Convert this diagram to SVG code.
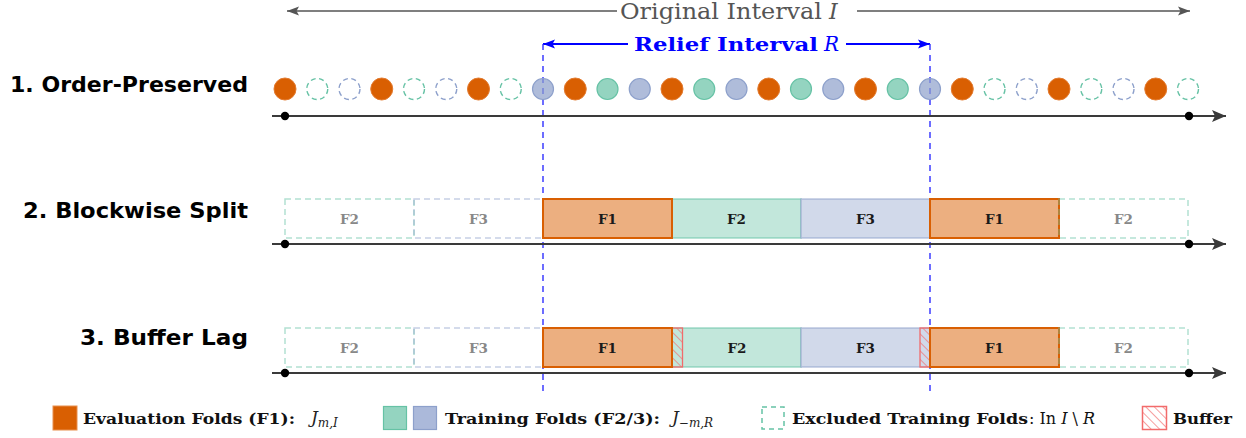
<svg xmlns="http://www.w3.org/2000/svg" width="1246" height="438" viewBox="0 0 1246 438">
<style>
.lbl{font-family:"DejaVu Sans",sans-serif;font-weight:bold;font-size:22px;fill:#000;text-anchor:end}
.ser{font-family:"DejaVu Serif",serif}
.bx{font-family:"DejaVu Serif",serif;font-weight:bold;font-size:13.5px;text-anchor:middle}
.dk{fill:#1a1a1a}
.gr{fill:#888}
.axis{stroke:#3a3a3a;stroke-width:2.2;fill:none}
.vd{stroke:#2f2fff;stroke-width:1.4;stroke-dasharray:6 5;fill:none}
.o{fill:#d95f02;stroke:#e37b30;stroke-width:1}
.g{fill:#66c2a5;fill-opacity:.7;stroke:#66c2a5;stroke-width:1.2}
.b{fill:#8da0cb;fill-opacity:.7;stroke:#8da0cb;stroke-width:1.2}
.xg{fill:none;stroke:#66c2a5;stroke-width:1.4;stroke-dasharray:5 3.5}
.xb{fill:none;stroke:#8da0cb;stroke-width:1.4;stroke-dasharray:5 3.5}
.f1{fill:#ecaf80;stroke:#d95f02;stroke-width:2}
.f2{fill:#c2e7db;stroke:#66c2a5;stroke-opacity:.6;stroke-width:1.5}
.f3{fill:#d1d9ea;stroke:#8da0cb;stroke-opacity:.6;stroke-width:1.5}
.e2{fill:none;stroke:#66c2a5;stroke-opacity:.5;stroke-width:1.5;stroke-dasharray:6 4}
.e3{fill:none;stroke:#8da0cb;stroke-opacity:.5;stroke-width:1.5;stroke-dasharray:6 4}
.buf{fill:url(#hatch);stroke:#f26b6b;stroke-width:1.3}
.dot{fill:#000}
.lg{font-family:"DejaVu Serif",serif;font-size:15.5px;font-weight:bold;fill:#111}
.mi{font-family:"DejaVu Serif",serif;font-size:17px;font-style:italic;fill:#222}
</style>
<defs>
<pattern id="hatch" patternUnits="userSpaceOnUse" width="6" height="6" patternTransform="rotate(-45)">
<line x1="0" y1="0" x2="0" y2="6" stroke="#f26b6b" stroke-width="1.3"/>
</pattern>
<marker id="ax" markerUnits="userSpaceOnUse" markerWidth="16" markerHeight="12" refX="14" refY="6" orient="auto">
<path d="M0,0 L14,6 L0,12 L3,6 z" fill="#3a3a3a"/>
</marker>
<marker id="gy" markerUnits="userSpaceOnUse" markerWidth="14" markerHeight="10" refX="12" refY="5" orient="auto-start-reverse">
<path d="M0,0.5 L12,5 L0,9.5 L2.5,5 z" fill="#555"/>
</marker>
<marker id="bl" markerUnits="userSpaceOnUse" markerWidth="14" markerHeight="10" refX="12" refY="5" orient="auto-start-reverse">
<path d="M0,0.5 L12,5 L0,9.5 L2.5,5 z" fill="#0000ff"/>
</marker>
</defs>

<g id="connectors">
<line x1="617" y1="11" x2="287" y2="11" stroke="#555" stroke-width="1.6" marker-end="url(#gy)"/>
<line x1="857" y1="11" x2="1190" y2="11" stroke="#555" stroke-width="1.6" marker-end="url(#gy)"/>
<line x1="628" y1="44" x2="543" y2="44" stroke="#0000ff" stroke-width="1.8" marker-end="url(#bl)"/>
<line x1="846" y1="44" x2="930" y2="44" stroke="#0000ff" stroke-width="1.8" marker-end="url(#bl)"/>
<line class="vd" x1="543" y1="44" x2="543" y2="392"/>
<line class="vd" x1="930" y1="44" x2="930" y2="392"/>
</g>

<g id="title-original">
<text class="ser" x="620" y="19" font-size="22" fill="#555" textLength="202" lengthAdjust="spacingAndGlyphs">Original Interval</text>
<text class="ser" x="829" y="19" font-size="22" fill="#555" font-style="italic">I</text>
</g>
<g id="title-relief">
<text class="ser" x="634" y="51" font-size="19" font-weight="bold" fill="#0000ff" textLength="184" lengthAdjust="spacingAndGlyphs">Relief Interval</text>
<text class="ser" x="824" y="51" font-size="20" fill="#0000ff" font-style="italic">R</text>
</g>

<g id="row1">
<text class="lbl" x="248" y="92" textLength="238" lengthAdjust="spacingAndGlyphs">1. Order-Preserved</text>
<circle class="o" cx="285" cy="89" r="11"/>
<circle class="xg" cx="317.25" cy="89" r="10.5"/>
<circle class="xb" cx="349.5" cy="89" r="10.5"/>
<circle class="o" cx="381.75" cy="89" r="11"/>
<circle class="xg" cx="414" cy="89" r="10.5"/>
<circle class="xb" cx="446.25" cy="89" r="10.5"/>
<circle class="o" cx="478.5" cy="89" r="11"/>
<circle class="xg" cx="510.75" cy="89" r="10.5"/>
<circle class="b" cx="543" cy="89" r="10.5"/>
<circle class="o" cx="575.25" cy="89" r="11"/>
<circle class="g" cx="607.5" cy="89" r="10.5"/>
<circle class="b" cx="639.75" cy="89" r="10.5"/>
<circle class="o" cx="672" cy="89" r="11"/>
<circle class="g" cx="704.25" cy="89" r="10.5"/>
<circle class="b" cx="736.5" cy="89" r="10.5"/>
<circle class="o" cx="768.75" cy="89" r="11"/>
<circle class="g" cx="801" cy="89" r="10.5"/>
<circle class="b" cx="833.25" cy="89" r="10.5"/>
<circle class="o" cx="865.5" cy="89" r="11"/>
<circle class="g" cx="897.75" cy="89" r="10.5"/>
<circle class="b" cx="930" cy="89" r="10.5"/>
<circle class="o" cx="962.25" cy="89" r="11"/>
<circle class="xg" cx="994.5" cy="89" r="10.5"/>
<circle class="xb" cx="1026.75" cy="89" r="10.5"/>
<circle class="o" cx="1059" cy="89" r="11"/>
<circle class="xg" cx="1091.25" cy="89" r="10.5"/>
<circle class="xb" cx="1123.5" cy="89" r="10.5"/>
<circle class="o" cx="1155.75" cy="89" r="11"/>
<circle class="xg" cx="1188" cy="89" r="10.5"/>
<line class="axis" x1="272" y1="116" x2="1226" y2="116" marker-end="url(#ax)"/>
<circle class="dot" cx="285" cy="116" r="4.2"/>
<circle class="dot" cx="1189" cy="116" r="4.2"/>
</g>

<g id="row2">
<text class="lbl" x="248" y="217.5" textLength="225" lengthAdjust="spacingAndGlyphs">2. Blockwise Split</text>
<rect class="e2" x="285" y="199" width="129" height="39"/>
<rect class="e3" x="414" y="199" width="129" height="39"/>
<rect class="f2" x="672" y="199" width="129" height="39"/>
<rect class="f3" x="801" y="199" width="129" height="39"/>
<rect class="f1" x="543" y="199" width="129" height="39"/>
<rect class="f1" x="930" y="199" width="129" height="39"/>
<rect class="e2" x="1059" y="199" width="129" height="39"/>
<text class="bx gr" x="349.5" y="223.5">F2</text>
<text class="bx gr" x="478.5" y="223.5">F3</text>
<text class="bx dk" x="607.5" y="223.5">F1</text>
<text class="bx dk" x="736.5" y="223.5">F2</text>
<text class="bx dk" x="865.5" y="223.5">F3</text>
<text class="bx dk" x="994.5" y="223.5">F1</text>
<text class="bx gr" x="1123.5" y="223.5">F2</text>
<line class="axis" x1="272" y1="244" x2="1226" y2="244" marker-end="url(#ax)"/>
<circle class="dot" cx="285" cy="244" r="4.2"/>
<circle class="dot" cx="1189" cy="244" r="4.2"/>
</g>

<g id="row3">
<text class="lbl" x="248" y="345" textLength="168" lengthAdjust="spacingAndGlyphs">3. Buffer Lag</text>
<rect class="e2" x="285" y="328" width="129" height="39"/>
<rect class="e3" x="414" y="328" width="129" height="39"/>
<rect class="f2" x="672" y="328" width="129" height="39"/>
<rect class="f3" x="801" y="328" width="129" height="39"/>
<rect class="buf" x="672" y="328" width="10.5" height="39"/>
<rect class="buf" x="920" y="328" width="10" height="39"/>
<rect class="f1" x="543" y="328" width="129" height="39"/>
<rect class="f1" x="930" y="328" width="129" height="39"/>
<rect class="e2" x="1059" y="328" width="129" height="39"/>
<text class="bx gr" x="349.5" y="352.5">F2</text>
<text class="bx gr" x="478.5" y="352.5">F3</text>
<text class="bx dk" x="607.5" y="352.5">F1</text>
<text class="bx dk" x="737" y="352.5">F2</text>
<text class="bx dk" x="865.5" y="352.5">F3</text>
<text class="bx dk" x="994.5" y="352.5">F1</text>
<text class="bx gr" x="1123.5" y="352.5">F2</text>
<line class="axis" x1="272" y1="373" x2="1226" y2="373" marker-end="url(#ax)"/>
<circle class="dot" cx="285" cy="373" r="4.2"/>
<circle class="dot" cx="1189" cy="373" r="4.2"/>
</g>

<g id="legend">
<rect x="53" y="406" width="24" height="24" fill="#d95f02" stroke="#e8904f" stroke-width="1"/>
<text class="lg" x="83" y="424" textLength="212" lengthAdjust="spacingAndGlyphs">Evaluation Folds (F1):</text>
<text class="mi" x="311" y="423">J<tspan font-size="12" dy="3.5">m,I</tspan></text>
<rect x="383.5" y="406.5" width="23" height="23" fill="#94d4c0" stroke="#66c2a5" stroke-width="1.2"/>
<rect x="413.5" y="406.5" width="23" height="23" fill="#abb9da" stroke="#8da0cb" stroke-width="1.2"/>
<text class="lg" x="445" y="424" textLength="215" lengthAdjust="spacingAndGlyphs">Training Folds (F2/3):</text>
<text class="mi" x="672" y="423">J<tspan font-size="12" dy="3.5">−m,R</tspan></text>
<rect x="762" y="407" width="22" height="22" fill="none" stroke="#66c2a5" stroke-width="1.5" stroke-dasharray="5 4"/>
<text class="lg" x="792" y="424" textLength="236" lengthAdjust="spacingAndGlyphs">Excluded Training Folds</text>
<text class="ser" x="1029" y="424" font-size="16" fill="#111">: In <tspan font-style="italic">I</tspan> \ <tspan font-style="italic">R</tspan></text>
<rect x="1142.5" y="406.5" width="24" height="23" fill="url(#hatch)" stroke="#f26b6b" stroke-width="1.5"/>
<text class="lg" x="1173" y="424" textLength="59" lengthAdjust="spacingAndGlyphs">Buffer</text>
</g>
</svg>
